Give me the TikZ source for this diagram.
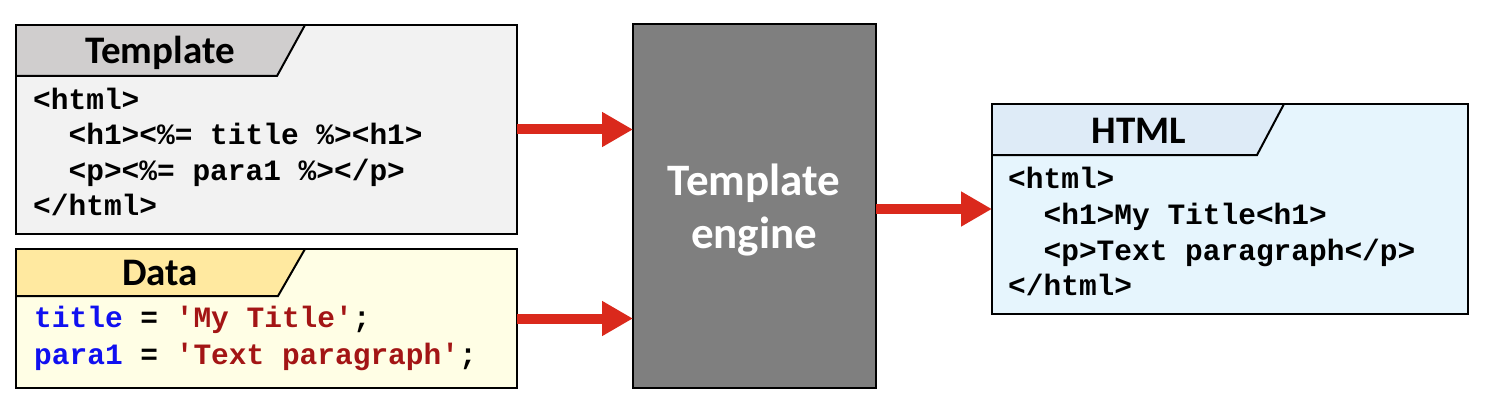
\documentclass[tikz,border=0pt]{standalone}
\usepackage{fontspec}
\setmonofont{Liberation Mono}
\newfontfamily\hdrfont{Carlito}
\usetikzlibrary{arrows.meta}
\definecolor{tplbody}{HTML}{F2F2F2}
\definecolor{tplhead}{HTML}{D0CECE}
\definecolor{datbody}{HTML}{FFFEE5}
\definecolor{dathead}{HTML}{FFE9A0}
\definecolor{htmbody}{HTML}{E6F5FD}
\definecolor{htmhead}{HTML}{DEEBF7}
\definecolor{enggray}{HTML}{7F7F7F}
\definecolor{arrred}{HTML}{DA291C}
\definecolor{kwblue}{HTML}{1010F0}
\definecolor{strred}{HTML}{A31515}
\begin{document}
\begin{tikzpicture}[x=1pt,y=-1pt,
  box/.style={draw=black, line width=2pt, outer sep=0pt, inner sep=0pt, anchor=north west},
  border/.style={draw=black, line width=2pt},
  code/.style={anchor=base west, inner sep=0pt, font=\fontsize{29.5}{35}\selectfont\ttfamily\bfseries},
  hdr/.style={anchor=base, inner sep=0pt, font=\fontsize{39}{44}\selectfont\hdrfont\bfseries},
  engtxt/.style={anchor=base, inner sep=0pt, text=white, font=\fontsize{45}{52}\selectfont\hdrfont\bfseries},
  arr/.style={draw=arrred, line width=10pt, -{Triangle[length=31pt,width=33pt]}}]
\useasboundingbox (0,0) rectangle (1485,401);

% Template box
\node[box, fill=tplbody, minimum width=501pt, minimum height=209pt] (tpl) at (16,25) {};
\fill[tplhead] (16,25) -- (305,25) -- (277,76) -- (16,76) -- cycle;
\draw[border] (16,76) -- (277,76) -- (305,25);
\draw[border] (tpl.north west) rectangle (tpl.south east);
\node[hdr] (tplh) at (160,64) {Template};
\node[code] (tpl1) at (33,110) {<html>};
\node[code] (tpl2) at (33,145) {\hspace*{1.2em}<h1><\%= title \%><h1>};
\node[code] (tpl3) at (33,180) {\hspace*{1.2em}<p><\%= para1 \%></p>};
\node[code] (tpl4) at (33,215) {</html>};

% Data box
\node[box, fill=datbody, minimum width=501pt, minimum height=139pt] (dat) at (16,249) {};
\fill[dathead] (16,249) -- (305,249) -- (278,296) -- (16,296) -- cycle;
\draw[border] (16,296) -- (278,296) -- (305,249);
\draw[border] (dat.north west) rectangle (dat.south east);
\node[hdr] (dath) at (160,285) {Data};
\node[code] (dat1) at (34,327) {\textcolor{kwblue}{title} = \textcolor{strred}{'My Title'};};
\node[code] (dat2) at (34,364) {\textcolor{kwblue}{para1} = \textcolor{strred}{'Text paragraph'};};

% Engine
\node[box, fill=enggray, minimum width=243pt, minimum height=364pt] (eng) at (633,24) {};
\node[engtxt] (eng1) at (754,195) {Template};
\node[engtxt] (eng2) at (754,248) {engine};

% HTML box
\node[box, fill=htmbody, minimum width=476pt, minimum height=210pt] (htm) at (992,104) {};
\fill[htmhead] (992,104) -- (1284,104) -- (1257,155) -- (992,155) -- cycle;
\draw[border] (992,155) -- (1257,155) -- (1284,104);
\draw[border] (htm.north west) rectangle (htm.south east);
\node[hdr] (htmh) at (1139,143) {HTML};
\node[code] (htm1) at (1008,188) {<html>};
\node[code] (htm2) at (1008,224) {\hspace*{1.2em}<h1>My Title<h1>};
\node[code] (htm3) at (1008,260) {\hspace*{1.2em}<p>Text paragraph</p>};
\node[code] (htm4) at (1008,295) {</html>};

% Arrows
\draw[arr] (tpl.east) -- (eng.west |- tpl.east);
\draw[arr] (dat.east) -- (eng.west |- dat.east);
\draw[arr] (eng.east |- htm.west) -- (htm.west);
\end{tikzpicture}
\end{document}
